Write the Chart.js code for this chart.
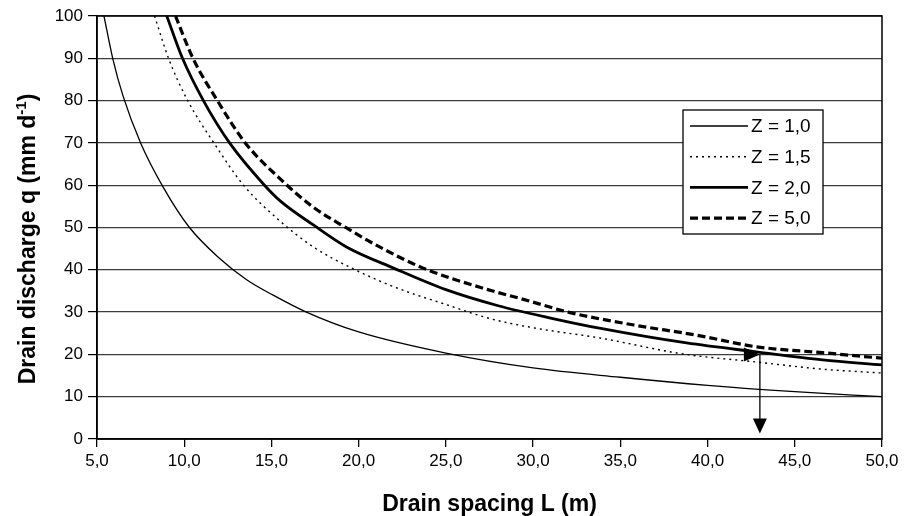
<!DOCTYPE html>
<html>
<head>
<meta charset="utf-8">
<script src="https://cdn.jsdelivr.net/npm/chart.js@4.4.1/dist/chart.umd.min.js"></script>
<style>
  html, body { margin: 0; padding: 0; background: #fff; }
  #wrap { width: 907px; height: 516px; }
</style>
</head>
<body>
<div id="wrap"><canvas id="drain-chart"></canvas></div>
<script>
// data
const seriesNames = ['Z = 1,0', 'Z = 1,5', 'Z = 2,0', 'Z = 5,0'];

const spacingZ10 = [5.4, 5.9, 6.5, 7.5, 8.8, 10.3, 12.0, 13.6, 15.1, 17.0, 20.0, 25.0, 30.0, 35.0, 40.0, 45.0, 50.0];
const dischargeZ10 = [100, 90, 81, 70, 59.5, 50, 42.8, 37.6, 34.0, 30.0, 25.3, 20.3, 16.8, 14.6, 12.7, 11.2, 10.0];

const spacingZ15 = [8.3, 9.1, 10.2, 11.7, 13.4, 15.5, 17.4, 19.6, 22.2, 25.0, 27.5, 30.0, 33.8, 38.6, 42.8, 46.6, 50.0];
const dischargeZ15 = [100, 90, 80, 70, 60, 51.5, 45.4, 40.4, 35.7, 31.8, 28.5, 26.3, 23.9, 20.1, 18.2, 16.5, 15.6];

const spacingZ20 = [9.0, 9.9, 11.1, 12.6, 14.6, 15.5, 17.4, 19.3, 22.0, 25.0, 28.0, 31.0, 33.8, 38.8, 42.8, 46.6, 50.0];
const dischargeZ20 = [100, 90, 80, 70, 60, 56.3, 50.6, 45.4, 40.4, 35.3, 31.5, 28.6, 26.2, 22.7, 20.6, 18.7, 17.5];

const spacingZ50 = [9.5, 10.5, 11.9, 13.5, 15.5, 17.4, 19.3, 21.2, 23.7, 27.0, 29.8, 32.0, 35.7, 39.3, 42.8, 46.6, 50.0];
const dischargeZ50 = [100, 90, 80, 70, 61.5, 54.8, 49.9, 45.4, 40.4, 35.8, 32.6, 30.0, 27.0, 24.6, 21.8, 20.4, 19.1];

const xTickValues = [5, 10, 15, 20, 25, 30, 35, 40, 45, 50];
const yTickValues = [0, 10, 20, 30, 40, 50, 60, 70, 80, 90, 100];

// read-off point shown with arrows
const arrowSpacing = 43.0;
const arrowDischarge = 20;
const arrowEndDischarge = 1.3;

function toPoints(xs, ys) {
  return xs.map((x, i) => ({ x: x, y: ys[i] }));
}

const lineStyles = [
  { width: 1.3, dash: [] },
  { width: 1.4, dash: [2, 4] },
  { width: 2.8, dash: [] },
  { width: 3.2, dash: [8, 4] }
];

const data = {
  datasets: [
    { label: seriesNames[0], data: toPoints(spacingZ10, dischargeZ10) },
    { label: seriesNames[1], data: toPoints(spacingZ15, dischargeZ15) },
    { label: seriesNames[2], data: toPoints(spacingZ20, dischargeZ20) },
    { label: seriesNames[3], data: toPoints(spacingZ50, dischargeZ50) }
  ].map((ds, i) => Object.assign(ds, {
    borderColor: '#000',
    borderWidth: lineStyles[i].width,
    borderDash: lineStyles[i].dash,
    pointRadius: 0,
    fill: false,
    cubicInterpolationMode: 'monotone'
  }))
};

const FONT = "'Liberation Sans', Arial, sans-serif";

// frame, axis titles, legend box and the arrows
const extras = {
  id: 'extras',
  afterDraw(chart) {
    const { ctx, chartArea: { left, right, top, bottom }, scales: { x, y } } = chart;
    ctx.save();

    // plot frame
    ctx.strokeStyle = '#000';
    ctx.lineWidth = 1.5;
    ctx.setLineDash([]);
    ctx.strokeRect(left, top, right - left, bottom - top);

    // arrows
    const ax = x.getPixelForValue(arrowSpacing);
    const ay = y.getPixelForValue(arrowDischarge);
    const ay2 = y.getPixelForValue(arrowEndDischarge);
    ctx.lineWidth = 1.3;
    ctx.beginPath();
    ctx.moveTo(ax, ay);
    ctx.lineTo(ax, ay2 - 12);
    ctx.stroke();
    ctx.fillStyle = '#000';
    ctx.beginPath();
    ctx.moveTo(ax, ay2);
    ctx.lineTo(ax - 7, ay2 - 15);
    ctx.lineTo(ax + 7, ay2 - 15);
    ctx.closePath();
    ctx.fill();
    ctx.beginPath();
    ctx.moveTo(ax, ay);
    ctx.lineTo(ax - 16, ay - 7);
    ctx.lineTo(ax - 16, ay + 7);
    ctx.closePath();
    ctx.fill();

    // legend
    const lx = 683, ly = 110, lw = 140, lh = 124;
    ctx.fillStyle = '#fff';
    ctx.fillRect(lx, ly, lw, lh);
    ctx.lineWidth = 1.3;
    ctx.strokeRect(lx, ly, lw, lh);
    ctx.font = '19px ' + FONT;
    ctx.textBaseline = 'middle';
    ctx.textAlign = 'left';
    seriesNames.forEach((name, i) => {
      const ry = ly + 16 + i * 30.7;
      ctx.strokeStyle = '#000';
      ctx.lineWidth = lineStyles[i].width;
      ctx.setLineDash(lineStyles[i].dash);
      ctx.beginPath();
      ctx.moveTo(lx + 7, ry);
      ctx.lineTo(lx + 65, ry);
      ctx.stroke();
      ctx.setLineDash([]);
      ctx.fillStyle = '#000';
      ctx.fillText(name, lx + 68, ry + 1);
    });

    // axis titles
    ctx.fillStyle = '#000';
    ctx.font = 'bold 23px ' + FONT;
    ctx.textAlign = 'center';
    ctx.textBaseline = 'alphabetic';
    ctx.fillText('Drain spacing L (m)', (left + right) / 2, 511);

    ctx.translate(35, 239);
    ctx.rotate(-Math.PI / 2);
    const main = 'Drain discharge q (mm d';
    const sup = '-1';
    const close = ')';
    ctx.font = 'bold 23px ' + FONT;
    const w1 = ctx.measureText(main).width;
    const w3 = ctx.measureText(close).width;
    ctx.font = 'bold 15px ' + FONT;
    const w2 = ctx.measureText(sup).width;
    const sx = -(w1 + w2 + w3) / 2;
    ctx.textAlign = 'left';
    ctx.font = 'bold 23px ' + FONT;
    ctx.fillText(main, sx, 0);
    ctx.font = 'bold 15px ' + FONT;
    ctx.fillText(sup, sx + w1, -9);
    ctx.font = 'bold 23px ' + FONT;
    ctx.fillText(close, sx + w1 + w2, 0);

    ctx.restore();
  }
};

const config = {
  type: 'line',
  data,
  options: {
    responsive: true,
    maintainAspectRatio: false,
    animation: false,
    events: [],
    layout: { padding: { top: 16, right: 25, left: 0, bottom: 0 } },
    plugins: {
      legend: { display: false },
      tooltip: { enabled: false }
    },
    scales: {
      x: {
        type: 'linear',
        min: 5,
        max: 50,
        afterBuildTicks: (scale) => { scale.ticks = xTickValues.map(v => ({ value: v })); },
        afterFit: (scale) => { scale.height = 77; },
        ticks: {
          color: '#000',
          font: { family: FONT, size: 17 },
          padding: 4,
          maxRotation: 0,
          callback: (v) => Number(v).toFixed(1).replace('.', ',')
        },
        grid: { drawOnChartArea: false, color: '#000', tickLength: 8, lineWidth: 1.3 },
        border: { color: '#000', width: 1.5 }
      },
      y: {
        min: 0,
        max: 100,
        afterBuildTicks: (scale) => { scale.ticks = yTickValues.map(v => ({ value: v })); },
        afterFit: (scale) => { scale.width = 97; },
        ticks: {
          color: '#000',
          font: { family: FONT, size: 17 },
          padding: 5
        },
        grid: { color: '#3c3c3c', lineWidth: 1.2, tickLength: 9, tickColor: '#000' },
        border: { color: '#000', width: 1.5 }
      }
    }
  },
  plugins: [extras]
};

const myChart = new Chart(document.getElementById('drain-chart'), config);
</script>
</body>
</html>
